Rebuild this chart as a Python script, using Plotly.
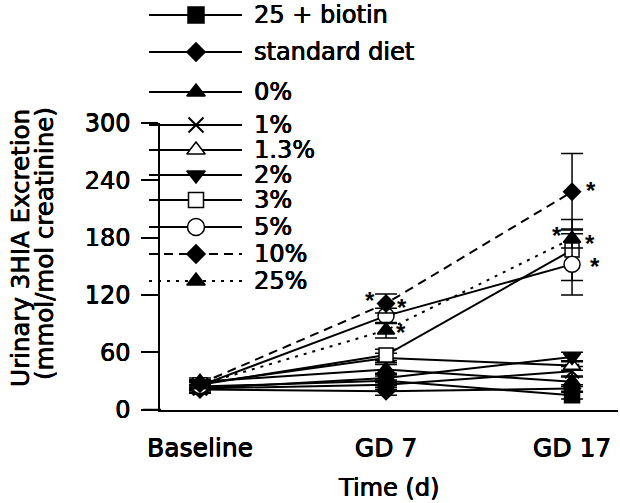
import plotly.graph_objects as go

# ---------------- data ----------------
categories = ["Baseline", "GD 7", "GD 17"]
y_ticks = [0, 60, 120, 180, 240, 300]

series_names = ["25 + biotin", "standard diet", "0%", "1%", "1.3%",
                "2%", "3%", "5%", "10%", "25%"]

biotin_25 = [24, 30, 15]
standard_diet = [21, 19, 22]
pct_0 = [29, 42, 29]
pct_1 = [22, 26, 40]
pct_1_3 = [27, 54, 46]
pct_2 = [22, 33, 55]
pct_3 = [26, 57, 167]
pct_5 = [25, 98, 152]
pct_10 = [27, 111, 228]
pct_25 = [26, 83, 179]

err_biotin_25 = [4, 5, 4]
err_standard_diet = [4, 4, 4]
err_pct_0 = [4, 5, 5]
err_pct_1 = [4, 5, 5]
err_pct_1_3 = [4, 5, 5]
err_pct_2 = [4, 5, 5]
err_pct_3 = [4, 6, 32]
err_pct_5 = [4, 8, 32]
err_pct_10 = [4, 10, 40]
err_pct_25 = [4, 8, 10]

values = [biotin_25, standard_diet, pct_0, pct_1, pct_1_3,
          pct_2, pct_3, pct_5, pct_10, pct_25]
errors = [err_biotin_25, err_standard_diet, err_pct_0, err_pct_1, err_pct_1_3,
          err_pct_2, err_pct_3, err_pct_5, err_pct_10, err_pct_25]

# significance stars: (series, category index)
stars = [("10%", 1), ("10%", 1), ("25%", 1),
         ("10%", 2), ("25%", 2), ("25%", 2), ("5%", 2)]
star_offsets = [(-16, 8), (16, 1), (15, 3), (19, 6), (-15, 8), (18, 0), (23, 3)]

# ---------------- styles ----------------
W, H = 620, 503
FONT = "DejaVu Sans, Verdana, sans-serif"
STAR_FONT = "Liberation Sans, Arial, sans-serif"
FS = 24
SHADOW = "0.45px 0 0 black, -0.2px 0 0 black, 0 0.3px 0 black"

def tfont(size):
    return dict(family=FONT, size=size, color="black", shadow=SHADOW)

styles = {
    "25 + biotin":   dict(symbol="square", size=15, fill="black", dash="solid"),
    "standard diet": dict(symbol="diamond", size=13, fill="black", dash="solid"),
    "0%":            dict(symbol="triangle-up", size=15, fill="black", dash="solid"),
    "1%":            dict(symbol="x-thin", size=14, fill="black", dash="solid"),
    "1.3%":          dict(symbol="triangle-up", size=15, fill="white", dash="solid"),
    "2%":            dict(symbol="triangle-down", size=15, fill="black", dash="solid"),
    "3%":            dict(symbol="square", size=14, fill="white", dash="solid"),
    "5%":            dict(symbol="circle", size=16, fill="white", dash="solid"),
    "10%":           dict(symbol="diamond", size=13, fill="black", dash="9px,6px"),
    "25%":           dict(symbol="triangle-up", size=15, fill="black", dash="3px,6px"),
}

# legend layout in page pixels
legend_rows_y = [15, 52, 92, 125, 150, 175, 200, 227, 254, 281]
legend_line_x = (149, 242)
legend_marker_x = 196
legend_text_x = 252

def px_x(v):
    return v / W

def px_y(v):
    return (H - v) / H

fig = go.Figure()

for name, vals, errs in zip(series_names, values, errors):
    st = styles[name]
    line_sym = st["symbol"] == "x-thin"
    fig.add_trace(go.Scatter(
        x=categories, y=vals, mode="lines+markers", name=name,
        line=dict(color="black", width=2, dash=st["dash"]),
        marker=dict(symbol=st["symbol"], size=st["size"],
                    color="black" if line_sym else st["fill"],
                    line=dict(color="black", width=2 if line_sym else 1.5)),
        error_y=dict(type="data", array=errs, visible=True,
                     color="black", thickness=1.5, width=11),
        showlegend=False, xaxis="x", yaxis="y",
    ))

# custom legend glyphs (on an overlay axis in page pixels)
for name, ry in zip(series_names, legend_rows_y):
    st = styles[name]
    line_sym = st["symbol"] == "x-thin"
    fig.add_trace(go.Scatter(
        x=list(legend_line_x), y=[ry, ry], mode="lines",
        line=dict(color="black", width=2, dash=st["dash"]),
        showlegend=False, hoverinfo="skip", xaxis="x2", yaxis="y2"))
    fig.add_trace(go.Scatter(
        x=[legend_marker_x], y=[ry], mode="markers",
        marker=dict(symbol=st["symbol"], size=st["size"] + 1,
                    color="black" if line_sym else st["fill"],
                    line=dict(color="black", width=2 if line_sym else 1.5)),
        showlegend=False, hoverinfo="skip", xaxis="x2", yaxis="y2"))

annotations = []
for name, ry in zip(series_names, legend_rows_y):
    annotations.append(dict(
        text=name, xref="paper", yref="paper", x=px_x(legend_text_x), y=px_y(ry),
        xanchor="left", yanchor="middle", showarrow=False,
        font=tfont(FS)))

for (sname, ci), (dx, dy) in zip(stars, star_offsets):
    vals = values[series_names.index(sname)]
    annotations.append(dict(
        text="<b>*</b>", xref="x", yref="y", x=categories[ci], y=vals[ci],
        xshift=dx, yshift=dy - 5, showarrow=False,
        font=dict(family=STAR_FONT, size=24, color="black")))

# axis titles
annotations.append(dict(
    text="Urinary 3HIA Excretion", xref="paper", yref="paper",
    x=px_x(21), y=px_y(248), textangle=-90, showarrow=False,
    xanchor="center", yanchor="middle", font=tfont(24.5)))
annotations.append(dict(
    text="(mmol/mol creatinine)", xref="paper", yref="paper",
    x=px_x(44), y=px_y(244), textangle=-90, showarrow=False,
    xanchor="center", yanchor="middle", font=tfont(24.5)))
annotations.append(dict(
    text="Time (d)", xref="paper", yref="paper",
    x=px_x(388), y=px_y(488), showarrow=False,
    xanchor="center", yanchor="middle", font=tfont(FS)))

shapes = [dict(type="line", xref="paper", yref="paper",
               x0=px_x(143), x1=px_x(161), y0=px_y(409.5), y1=px_y(409.5),
               line=dict(color="black", width=1.5))]

fig.update_layout(
    template="none",
    width=W, height=H, autosize=False,
    margin=dict(l=0, r=0, t=0, b=0, pad=0, autoexpand=False),
    paper_bgcolor="white", plot_bgcolor="rgba(0,0,0,0)",
    font=dict(family=FONT, size=FS, color="black"),
    showlegend=False,
    xaxis=dict(domain=[px_x(160), px_x(618)], range=[-0.215, 2.247],
               type="category", showline=True, linecolor="black", linewidth=1.5,
               ticks="", showgrid=False, zeroline=False, automargin=False,
               tickfont=tfont(25),
               ticklabelstandoff=15, anchor="y", fixedrange=True),
    yaxis=dict(domain=[px_y(409.5), px_y(123)], range=[0, 300],
               tickvals=y_ticks, ticktext=[str(t) for t in y_ticks],
               showline=True, linecolor="black", linewidth=1.5,
               ticks="outside", ticklen=17, tickwidth=1.5, tickcolor="black",
               showgrid=False, zeroline=False, automargin=False,
               tickfont=tfont(FS),
               ticklabelstandoff=6, anchor="x", fixedrange=True),
    xaxis2=dict(domain=[0, 1], range=[0, W], visible=False, anchor="y2",
                fixedrange=True, automargin=False),
    yaxis2=dict(domain=[0, 1], range=[H, 0], visible=False, anchor="x2",
                fixedrange=True, automargin=False),
    annotations=annotations,
    shapes=shapes,
)

fig.write_html("out.html",
               config={"displayModeBar": False, "responsive": False},
               post_script="document.body.style.margin='0';"
                           "document.body.style.overflow='hidden';")
